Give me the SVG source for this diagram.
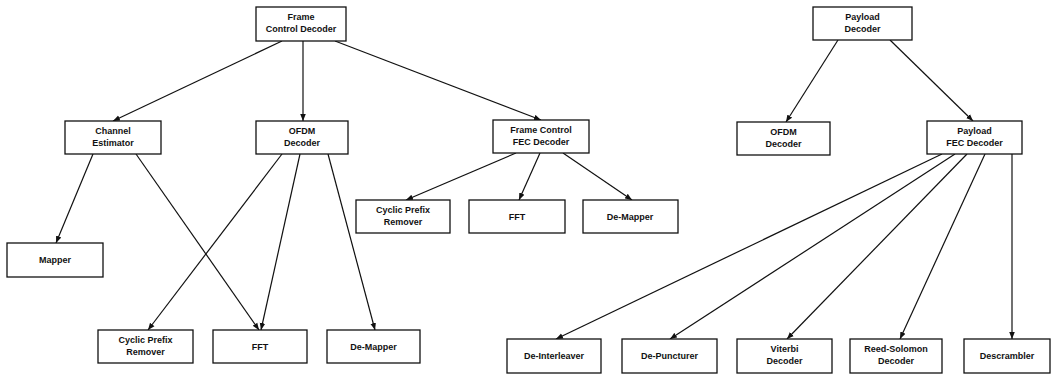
<svg xmlns="http://www.w3.org/2000/svg" width="1053" height="374" viewBox="0 0 1053 374">
<style>
.box{fill:#fff;stroke:#111;stroke-width:1.3}
.t{font-family:"Liberation Sans",Arial,sans-serif;font-size:9px;font-weight:bold;fill:#111;text-anchor:middle}
.c{stroke:#111;stroke-width:1.2;fill:none;marker-end:url(#a)}
</style>
<defs>
<marker id="a" viewBox="0 0 10 10" refX="10" refY="5" markerWidth="7" markerHeight="7" orient="auto" markerUnits="userSpaceOnUse">
<path d="M0,1 L10,5 L0,9 z" fill="#111"/>
</marker>
</defs>
<rect width="1053" height="374" fill="#fff"/>
<g id="connectors">
<line class="c" x1="282" y1="41" x2="113" y2="121"/>
<line class="c" x1="303" y1="41" x2="303" y2="121"/>
<line class="c" x1="335" y1="41" x2="541" y2="120"/>
<line class="c" x1="93" y1="154" x2="56" y2="243"/>
<line class="c" x1="136" y1="154" x2="259" y2="330"/>
<line class="c" x1="282" y1="154" x2="148" y2="330"/>
<line class="c" x1="300" y1="154" x2="261" y2="330"/>
<line class="c" x1="328" y1="154" x2="375" y2="330"/>
<line class="c" x1="516" y1="153" x2="406" y2="200"/>
<line class="c" x1="540" y1="153" x2="519" y2="200"/>
<line class="c" x1="563" y1="153" x2="632" y2="200"/>
<line class="c" x1="838" y1="40" x2="786" y2="122"/>
<line class="c" x1="890" y1="40" x2="973" y2="121"/>
<line class="c" x1="942" y1="154" x2="556" y2="339"/>
<line class="c" x1="955" y1="154" x2="670" y2="339"/>
<line class="c" x1="967" y1="154" x2="787" y2="339"/>
<line class="c" x1="985" y1="154" x2="900" y2="339"/>
<line class="c" x1="1012" y1="154" x2="1012" y2="339"/>
</g>
<g id="frame-control-decoder"><rect class="box" x="256" y="7" width="90" height="34"/><text class="t" x="301" y="19.5">Frame</text><text class="t" x="301" y="31.5">Control Decoder</text></g>
<g id="channel-estimator"><rect class="box" x="65" y="121" width="96" height="33"/><text class="t" x="113" y="133.5">Channel</text><text class="t" x="113" y="145.5">Estimator</text></g>
<g id="ofdm-decoder-left"><rect class="box" x="256" y="121" width="92" height="33"/><text class="t" x="302" y="133.5">OFDM</text><text class="t" x="302" y="145.5">Decoder</text></g>
<g id="frame-control-fec-decoder"><rect class="box" x="493" y="120" width="96" height="33"/><text class="t" x="541" y="132.5">Frame Control</text><text class="t" x="541" y="144.5">FEC Decoder</text></g>
<g id="cpr-mid"><rect class="box" x="356" y="200" width="94" height="33"/><text class="t" x="403" y="212.5">Cyclic Prefix</text><text class="t" x="403" y="224.5">Remover</text></g>
<g id="fft-mid"><rect class="box" x="469" y="200" width="96" height="33"/><text class="t" x="517" y="219.5">FFT</text></g>
<g id="demapper-mid"><rect class="box" x="583" y="200" width="95" height="33"/><text class="t" x="630" y="219.5">De-Mapper</text></g>
<g id="mapper"><rect class="box" x="7" y="243" width="96" height="34"/><text class="t" x="55" y="263">Mapper</text></g>
<g id="cpr-bottom"><rect class="box" x="98" y="330" width="95" height="33"/><text class="t" x="145.5" y="342.5">Cyclic Prefix</text><text class="t" x="145.5" y="354.5">Remover</text></g>
<g id="fft-bottom"><rect class="box" x="213" y="330" width="94" height="33"/><text class="t" x="260" y="349.5">FFT</text></g>
<g id="demapper-bottom"><rect class="box" x="327" y="330" width="93" height="33"/><text class="t" x="373.5" y="349.5">De-Mapper</text></g>
<g id="payload-decoder"><rect class="box" x="813" y="7" width="99" height="33"/><text class="t" x="862.5" y="19.5">Payload</text><text class="t" x="862.5" y="31.5">Decoder</text></g>
<g id="ofdm-decoder-right"><rect class="box" x="737" y="122" width="93" height="33"/><text class="t" x="783.5" y="134.5">OFDM</text><text class="t" x="783.5" y="146.5">Decoder</text></g>
<g id="payload-fec-decoder"><rect class="box" x="927" y="121" width="95" height="33"/><text class="t" x="974.5" y="133.5">Payload</text><text class="t" x="974.5" y="145.5">FEC Decoder</text></g>
<g id="de-interleaver"><rect class="box" x="507" y="339" width="94" height="34"/><text class="t" x="554" y="359">De-Interleaver</text></g>
<g id="de-puncturer"><rect class="box" x="622" y="339" width="95" height="34"/><text class="t" x="669.5" y="359">De-Puncturer</text></g>
<g id="viterbi-decoder"><rect class="box" x="737" y="339" width="95" height="34"/><text class="t" x="784.5" y="351.5">Viterbi</text><text class="t" x="784.5" y="363.5">Decoder</text></g>
<g id="reed-solomon-decoder"><rect class="box" x="850" y="339" width="92" height="34"/><text class="t" x="896" y="351.5">Reed-Solomon</text><text class="t" x="896" y="363.5">Decoder</text></g>
<g id="descrambler"><rect class="box" x="964" y="339" width="86" height="34"/><text class="t" x="1007" y="359">Descrambler</text></g>
</svg>
